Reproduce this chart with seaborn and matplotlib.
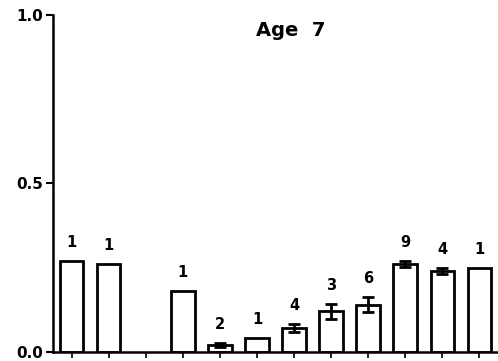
import matplotlib
matplotlib.use("Agg")
import matplotlib.pyplot as plt
import seaborn as sns
import numpy as np
import pandas as pd

# Group values (proportion), standard errors and sample sizes
groups = ["G1", "G2", "G3", "G4", "G5", "G6", "G7", "G8", "G9", "G10", "G11", "G12"]
means = [0.27, 0.26, np.nan, 0.18, 0.02, 0.04, 0.07, 0.12, 0.14, 0.26, 0.24, 0.25]
errors = [0.0, 0.0, 0.0, 0.0, 0.006, 0.0, 0.011, 0.022, 0.022, 0.009, 0.009, 0.0]
counts = ["1", "1", "", "1", "2", "1", "4", "3", "6", "9", "4", "1"]
y_ticks = [0.0, 0.5, 1.0]
y_tick_labels = ["0.0", "0.5", "1.0"]
title = "Age  7"

sns.set_style("white")
plt.rcParams["font.family"] = ["DejaVu Sans"]
plt.rcParams["text.color"] = "black"
plt.rcParams["xtick.color"] = "black"
plt.rcParams["ytick.color"] = "black"

df = pd.DataFrame({"group": groups, "mean": means})

fig = plt.figure(figsize=(4.98, 3.61), dpi=100)
ax = fig.add_axes([0.1064, 0.0258, 0.8936, 0.932])

sns.barplot(data=df, x="group", y="mean", order=groups, color="white",
            edgecolor="black", linewidth=2.0, width=0.64, ax=ax, errorbar=None)

xs = np.arange(len(groups))
m = np.array(means, dtype=float)
e = np.array(errors, dtype=float)
has_err = e > 0
ax.errorbar(xs[has_err], m[has_err], yerr=e[has_err], fmt="none",
            ecolor="black", elinewidth=2.0, capsize=4.5, capthick=2.0)

for x, v, err, n in zip(xs, m, e, counts):
    if n and not np.isnan(v):
        ax.text(x, v + err + 0.055, n, ha="center", va="center",
                fontsize=10.5, fontweight="bold", color="black")

ax.text(5.9, 0.955, title, ha="center", va="center", fontsize=14,
        fontweight="bold", family=["DejaVu Sans Condensed", "DejaVu Sans"],
        color="black")

ax.set_xlim(-0.5, 11.5)
ax.set_ylim(0, 1.0)
ax.set_yticks(y_ticks)
ax.set_yticklabels(y_tick_labels, fontweight="bold", fontsize=11, color="black")
ax.set_xticks(xs)
ax.set_xticklabels([])
ax.set_xlabel("")
ax.set_ylabel("")
ax.tick_params(axis="y", direction="out", length=5, width=1.5, pad=2, left=True)
ax.tick_params(axis="x", direction="out", length=4, width=1.2, bottom=True)
for side in ["top", "right"]:
    ax.spines[side].set_visible(False)
for side in ["left", "bottom"]:
    ax.spines[side].set_color("black")
    ax.spines[side].set_linewidth(1.8)

fig.savefig("out.png", dpi=100, facecolor="white")
